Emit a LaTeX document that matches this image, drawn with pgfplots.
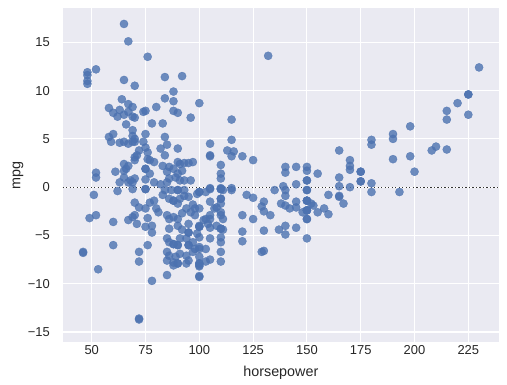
\documentclass[border=0pt]{standalone}
\usepackage{pgfplots}
\pgfplotsset{compat=1.18}
\usepackage{fontspec}
\setmainfont{Liberation Sans}
\definecolor{bgc}{HTML}{EAEAF2}
\definecolor{sbblue}{HTML}{4C72B0}
\definecolor{txt}{HTML}{262626}
\definecolor{zline}{HTML}{333333}
\begin{document}
\begin{tikzpicture}
\useasboundingbox (-62.7bp,-43.3bp) rectangle (444.3bp,341.7bp);
\begin{axis}[
  at={(0,0)}, anchor=south west,
  scale only axis, width=436.3bp, height=333.2bp,
  xmin=36.52, xmax=239.26, ymin=-16.0, ymax=18.5,
  axis background/.style={fill=bgc},
  axis line style={draw=none},
  major tick length=0pt,
  grid=major, major grid style={white, line width=1.1bp},
  xtick={50,75,100,125,150,175,200,225},
  xticklabels={50,75,100,125,150,175,200,225},
  ytick={-15,-10,-5,0,5,10,15},
  yticklabels={−15,−10,−5,0,5,10,15},
  ticklabel style={font=\fontsize{13}{15}\selectfont, text=txt},
  xticklabel style={anchor=base, yshift=-12.6bp, inner sep=0pt},
  yticklabel style={anchor=east, xshift=-12.7bp, inner sep=0pt},
  xlabel={horsepower}, ylabel={mpg},
  label style={font=\fontsize{14.4}{16}\selectfont, text=txt},
  xlabel style={at={(rel axis cs:0.5,0)}, anchor=base, yshift=-34.5bp, inner sep=0pt},
  ylabel style={at={(rel axis cs:0,0.5)}, anchor=base, yshift=42.4bp, inner sep=0pt},
  clip=true,
]
\addplot[only marks, mark=*, mark size=4.1bp,
  mark options={fill=sbblue, draw=sbblue, line width=0.3bp, opacity=0.8}]
  table[row sep=\\] {
x y\\
46 -6.7\\ 46 -6.8\\ 48 11.9\\ 48 11.6\\ 48 11.0\\ 48 10.7\\ 49 -3.2\\ 52 12.2\\
52 -2.9\\ 52 1.5\\ 52 1.0\\ 51 -0.8\\ 53 -8.5\\ 58 8.2\\ 58 5.2\\ 60 7.7\\
60 5.5\\ 59 4.7\\ 60 -3.6\\ 60 -6.0\\ 61 1.6\\ 62 -0.4\\ 62 7.3\\ 63 8.0\\
64 9.1\\ 65 16.9\\ 67 15.1\\ 65 11.1\\ 70 10.5\\ 67 8.6\\ 69 8.3\\ 65 7.5\\
67 7.8\\ 69 7.3\\ 70 7.2\\ 66 6.5\\ 63 4.6\\ 65 4.7\\ 67 4.5\\ 69 4.7\\
70 4.7\\ 69 5.9\\ 69 5.3\\ 70 5.0\\ 70 3.1\\ 71 3.3\\ 70 2.8\\ 65 2.4\\
66 1.9\\ 67 2.2\\ 65 1.7\\ 65 1.0\\ 68 0.7\\ 70 0.9\\ 63 0.5\\ 67 0.5\\
69 0.5\\ 69 -0.2\\ 70 -1.6\\ 72 -2.1\\ 69 -3.1\\ 70 -2.9\\ 67 -3.4\\ 71 -3.8\\
72 -6.7\\ 72 -7.7\\ 72 -13.7\\ 72 -13.6\\ 74 7.8\\ 75 7.9\\ 76 13.5\\ 78 6.6\\
75 5.5\\ 74 4.7\\ 75 4.1\\ 72 3.8\\ 76 3.6\\ 76 2.9\\ 77 2.8\\ 79 2.6\\
75 1.9\\ 77 1.4\\ 75 0.8\\ 79 0.5\\ 75 -0.2\\ 75 -2.2\\ 77 -1.6\\ 79 -1.4\\
80 -2.2\\ 76 -3.2\\ 75 -4.1\\ 78 -4.7\\ 76 -6.0\\ 78 -9.7\\ 80 8.3\\ 84 11.4\\
88 9.9\\ 84 9.2\\ 88 8.9\\ 88 7.9\\ 90 7.7\\ 83 6.6\\ 84 5.2\\ 85 4.4\\
82 4.0\\ 90 4.0\\ 84 3.3\\ 90 2.6\\ 91 2.4\\ 93 2.5\\ 95 2.5\\ 97 2.6\\
83 2.2\\ 86 2.1\\ 88 1.9\\ 85 1.6\\ 90 1.4\\ 92 1.7\\ 86 0.9\\ 89 1.0\\
91 0.7\\ 93 0.7\\ 96 0.7\\ 82 0.3\\ 85 0.5\\ 84 -0.3\\ 86 -1.2\\ 88 -1.4\\
90 -1.7\\ 91 -1.2\\ 93 -0.9\\ 95 -1.0\\ 87 -0.3\\ 90 -0.3\\ 93 -0.3\\ 99 -0.7\\
103 -0.5\\ 94 -2.2\\ 96 -2.6\\ 98 -2.2\\ 98 -2.9\\ 85 -2.9\\ 86 -3.3\\ 88 -3.1\\
90 -3.3\\ 78 -4.0\\ 86 -4.3\\ 90 -4.0\\ 95 -3.8\\ 100 -4.1\\ 103 -3.3\\ 104 -3.8\\
95 -4.7\\ 99 -4.8\\ 85 -5.3\\ 86 -5.7\\ 88 -5.9\\ 90 -6.0\\ 91 -5.3\\ 94 -5.3\\
95 -6.0\\ 98 -6.4\\ 85 -6.7\\ 86 -7.1\\ 89 -7.2\\ 91 -6.9\\ 94 -7.1\\ 97 -6.7\\
100 -6.4\\ 103 -6.4\\ 85 -7.6\\ 88 -7.8\\ 90 -7.9\\ 94 -7.9\\ 100 -7.9\\ 88 -8.1\\
95 -7.6\\ 100 -8.2\\ 100 -9.2\\ 103 -7.7\\ 85 -9.1\\ 92 11.5\\ 96 7.2\\ 100 8.7\\
105 4.5\\ 105 3.3\\ 105 3.2\\ 113 3.8\\ 116 3.7\\ 115 3.2\\ 115 4.9\\ 115 7.0\\
120 3.2\\ 125 2.8\\ 110 2.3\\ 110 1.4\\ 110 0.9\\ 105 -0.1\\ 110 -0.1\\ 115 -0.1\\
100 -0.5\\ 105 -0.2\\ 110 -0.2\\ 111 -0.3\\ 115 -0.3\\ 100 -2.2\\ 105 -1.5\\ 110 -1.2\\
110 -1.7\\ 110 -2.6\\ 110 -2.9\\ 111 -3.3\\ 107 -2.2\\ 108 -2.1\\ 105 -2.9\\ 105 -3.3\\
102 -3.4\\ 100 -4.0\\ 105 -4.2\\ 108 -4.0\\ 110 -4.3\\ 111 -4.4\\ 110 -5.2\\ 110 -5.7\\
100 -5.2\\ 100 -6.2\\ 100 -7.2\\ 100 -8.1\\ 105 -5.3\\ 105 -7.5\\ 110 -6.7\\ 110 -7.7\\
100 -9.3\\ 122 -0.8\\ 125 -1.1\\ 130 -1.5\\ 129 -2.0\\ 130 -2.5\\ 133 -2.9\\ 120 -2.9\\
125 -3.3\\ 120 -4.6\\ 120 -5.6\\ 130 -4.5\\ 129 -6.7\\ 130 -6.6\\ 132 13.6\\ 135 -0.3\\
140 2.1\\ 140 1.5\\ 145 2.1\\ 150 2.1\\ 150 1.7\\ 150 0.7\\ 145 0.3\\ 139 0.1\\
155 1.4\\ 165 3.8\\ 170 2.8\\ 170 2.2\\ 170 1.8\\ 165 1.0\\ 165 0.1\\ 170 0.0\\
140 -0.3\\ 140 -0.9\\ 138 -1.7\\ 140 -1.9\\ 142 -2.2\\ 145 -1.5\\ 145 -2.1\\ 148 -2.6\\
137 -4.4\\ 140 -4.0\\ 140 -4.9\\ 145 -4.2\\ 150 -0.3\\ 150 -1.4\\ 150 -2.4\\ 150 -3.3\\
152 -1.7\\ 153 -1.9\\ 155 -2.6\\ 150 -5.3\\ 158 -2.2\\ 160 -0.8\\ 160 -2.8\\ 165 -1.0\\
167 -1.7\\ 230 12.4\\ 225 9.6\\ 225 9.6\\ 220 8.7\\ 225 7.5\\ 215 7.9\\ 215 7.0\\
198 6.3\\ 190 5.5\\ 190 5.0\\ 180 4.9\\ 180 4.4\\ 208 3.8\\ 210 4.2\\ 215 3.9\\
198 3.2\\ 190 2.9\\ 200 1.6\\ 175 1.6\\ 175 1.6\\ 175 0.6\\ 175 0.6\\ 180 0.4\\
180 -0.5\\ 193 -0.5\\ 165 -0.9\\
150 -0.3\\ 150 -1.4\\ 150 -2.4\\ 150 -3.3\\ 150 -1.4\\ 150 -2.4\\ 150 0.7\\
110 -0.2\\ 110 -1.2\\ 110 -4.3\\ 100 -0.5\\ 100 -4.1\\ 100 -7.9\\ 90 -7.9\\
88 -5.9\\ 90 -6.0\\ 95 -6.0\\ 88 -1.4\\ 90 -0.3\\ 75 -0.2\\ 75 1.9\\ 95 -4.7\\
97 -1.8\\ 97 -5.7\\ 92 -4.4\\ 83 -0.8\\ 81 -2.6\\ 92 -2.7\\
};
\draw[color=zline, line width=1.3bp, dash pattern=on 1.3bp off 2.2bp]
  (axis cs:36.52,0) -- (axis cs:239.26,0);
\end{axis}
\end{tikzpicture}
\end{document}
